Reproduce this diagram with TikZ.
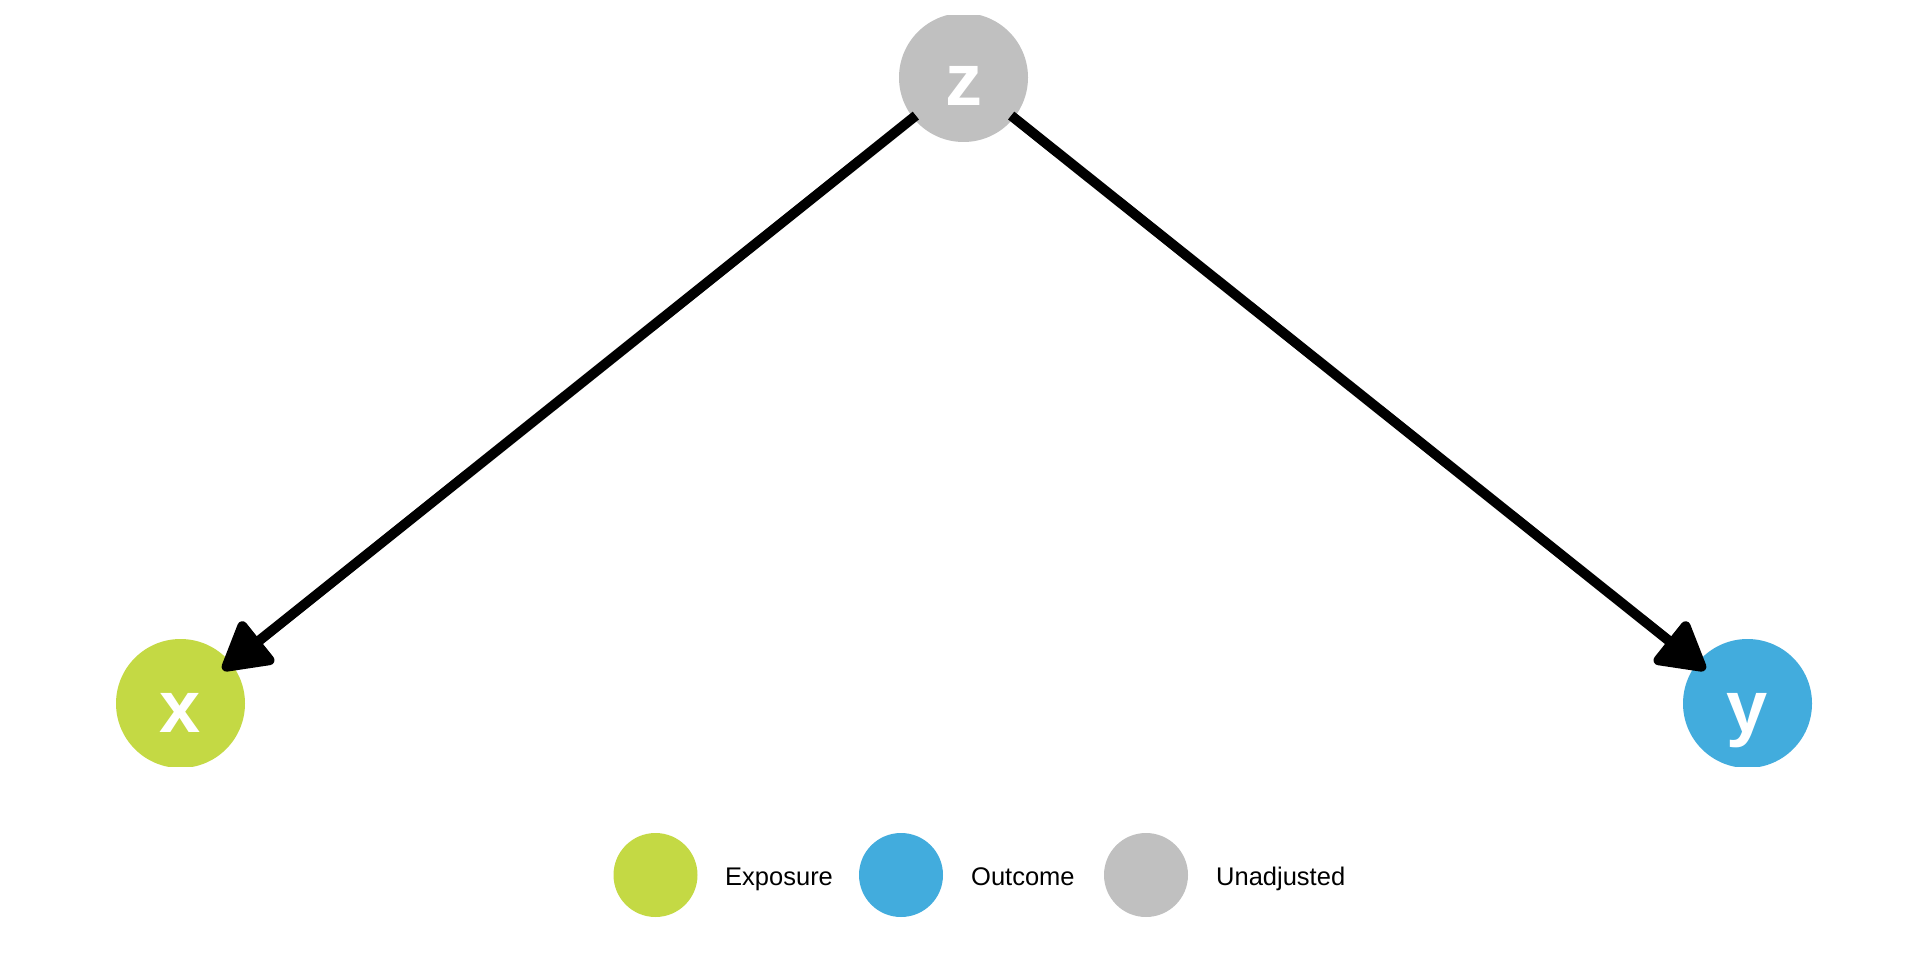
\documentclass[tikz,border=0pt]{standalone}
\usepackage{fontspec}
\setmainfont{Liberation Sans}
\usetikzlibrary{arrows.meta}
\definecolor{expcol}{HTML}{C4D944}
\definecolor{outcol}{HTML}{42ACDD}
\definecolor{unacol}{HTML}{C0C0C0}
\tikzset{
  dagnode/.style={circle, minimum size=129pt, inner sep=0pt, outer sep=0pt, draw=none},
  daglab/.style={anchor=base, text=white, inner sep=0pt, font=\fontsize{74}{74}\selectfont\bfseries},
  dagedge/.style={line width=10pt, black, -{Triangle[length=53pt,width=58pt,round]},
    shorten <=61pt, shorten >=54pt},
  legdot/.style={circle, minimum size=84pt, inner sep=0pt, outer sep=0pt, draw=none},
  legtext/.style={anchor=base west, inner sep=0pt, font=\fontsize{25.5}{25.5}\selectfont}
}
\begin{document}
\begin{tikzpicture}[x=1pt,y=-1pt]
\useasboundingbox (0,0) rectangle (1920,960);
\fill[white] (0,0) rectangle (1920,960);
\begin{scope}
  \clip (0,16) rectangle (1920,766);
  \node[dagnode, fill=unacol] (z) at (963.5,77.5) {};
  \node[dagnode, fill=expcol] (x) at (180.5,703.5) {};
  \node[dagnode, fill=outcol] (y) at (1747.5,703.5) {};
  \node[daglab] (zl) at ([yshift=-28.5pt]z.center) {z};
  \node[daglab] (xl) at ([yshift=-28.5pt]x.center) {x};
  \node[daglab] (yl) at ([yshift=-28.5pt]y.center) {y};
  \draw[dagedge] (z.center) -- (x.center);
  \draw[dagedge] (z.center) -- (y.center);
\end{scope}
% legend
\node[legdot, fill=expcol] (l1) at (655.5,875) {};
\node[legdot, fill=outcol] (l2) at (901,875) {};
\node[legdot, fill=unacol] (l3) at (1146,875) {};
\node[legtext] (t1) at (725,885) {Exposure};
\node[legtext] (t2) at (971,885) {Outcome};
\node[legtext] (t3) at (1216,885) {Unadjusted};
\end{tikzpicture}
\end{document}
